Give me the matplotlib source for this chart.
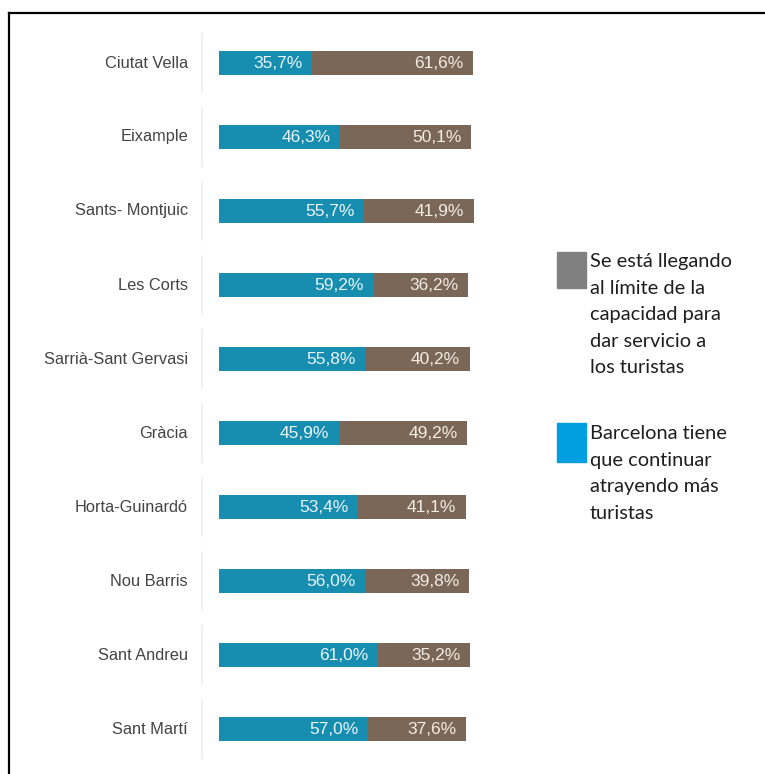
import matplotlib.pyplot as plt
from matplotlib.lines import Line2D
from matplotlib.patches import Rectangle

# Encuesta por distritos: % de respuestas
distritos = ['Ciutat Vella', 'Eixample', 'Sants- Montjuic', 'Les Corts',
             'Sarrià-Sant Gervasi', 'Gràcia', 'Horta-Guinardó', 'Nou Barris',
             'Sant Andreu', 'Sant Martí']
atraer = [35.7, 46.3, 55.7, 59.2, 55.8, 45.9, 53.4, 56.0, 61.0, 57.0]
limite = [61.6, 50.1, 41.9, 36.2, 40.2, 49.2, 41.1, 39.8, 35.2, 37.6]

leyenda_limite = 'Se está llegando\nal límite de la\ncapacidad para\ndar servicio a\nlos turistas'
leyenda_atraer = 'Barcelona tiene\nque continuar\natrayendo más\nturistas'

AZUL = '#178db0'
MARRON = '#7b6757'

W, H = 765, 774
fig = plt.figure(figsize=(W / 100, H / 100), dpi=100)
fig.patch.set_facecolor('white')

# ejes en pixeles: barras empiezan en x=219, filas cada 74 px
ax = fig.add_axes([219 / W, (H - 766) / H, 261 / W, 740 / H])
ax.set_xlim(0, 100)
ax.set_ylim(len(distritos) - 0.5, -0.5)
ax.axis('off')

def fmt(v):
    return f'{v:.1f}%'.replace('.', ',')

pad = 3.6  # ~10 px
alto = 0.33
for i, (nom, a, l) in enumerate(zip(distritos, atraer, limite)):
    ax.barh(i, a, height=alto, color=AZUL, left=0)
    ax.barh(i, l, height=alto, color=MARRON, left=a)
    ax.text(a - pad, i, fmt(a), ha='right', va='center', color='#e9f7fb',
            fontsize=12.5, family='Liberation Sans')
    ax.text(a + l - pad, i, fmt(l), ha='right', va='center', color='#f3ede7',
            fontsize=12.5, family='Liberation Sans')
    ax.text(-11.9, i, nom, ha='right', va='center', color='#444444',
            fontsize=11.8, family='Liberation Sans', clip_on=False)
    ax.vlines(-6.5, i - 0.41, i + 0.41, color='#ececec', lw=1.2, clip_on=False)

# leyenda dibujada a mano a la derecha
def px(x, y):
    return x / W, 1 - y / H

x0, y0 = px(557, 288)
fig.patches.append(Rectangle((x0, y0), 29 / W, 36 / H, transform=fig.transFigure,
                             color='#808080'))
x0, y0 = px(557, 462)
fig.patches.append(Rectangle((x0, y0), 29 / W, 39 / H, transform=fig.transFigure,
                             color='#00a0e0'))
tx, ty = px(590, 253)
fig.text(tx, ty, leyenda_limite, ha='left', va='top', fontsize=14.4,
         family='Lato', color='#1e1e1e', linespacing=1.68)
tx, ty = px(590, 425)
fig.text(tx, ty, leyenda_atraer, ha='left', va='top', fontsize=14.4,
         family='Lato', color='#1e1e1e', linespacing=1.68)

# marco superior e izquierdo
fig.lines.append(Line2D([9 / W, 1], [1 - 13 / H, 1 - 13 / H], transform=fig.transFigure,
                        color='black', lw=1.6))
fig.lines.append(Line2D([9 / W, 9 / W], [0, 1 - 13 / H], transform=fig.transFigure,
                        color='black', lw=1.6))

fig.savefig('out.png', dpi=100, facecolor='white')
